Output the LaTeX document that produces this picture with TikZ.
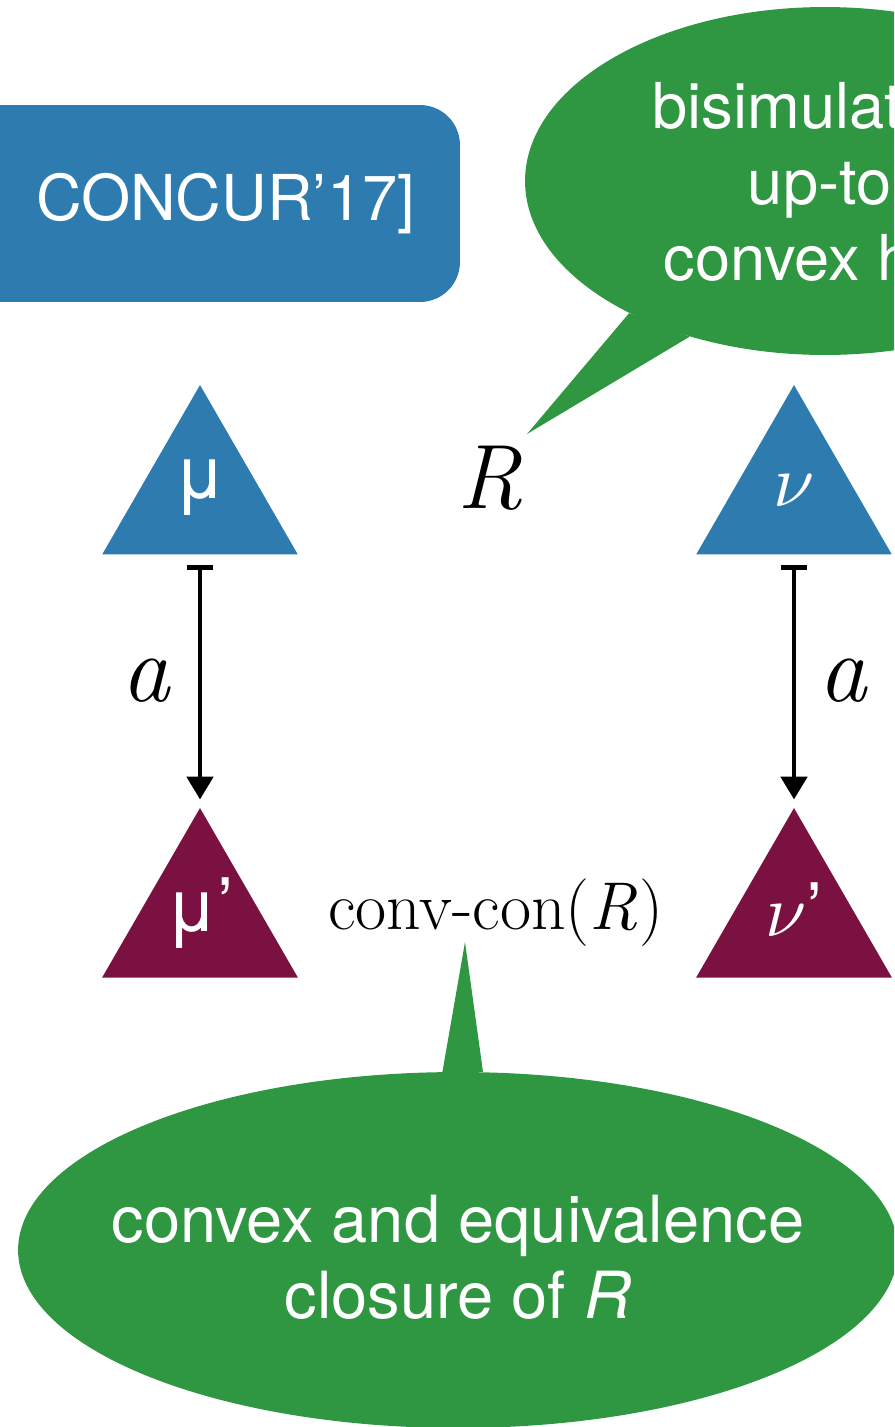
\documentclass[tikz,border=0pt]{standalone}
\usepackage[no-math]{fontspec}
\usepackage{graphicx}
\setmainfont{TeX Gyre Heros}
\newfontfamily\lmr{Latin Modern Roman}
\usetikzlibrary{shapes.geometric,arrows.meta}
\definecolor{kblue}{RGB}{46,124,175}
\definecolor{kgreen}{RGB}{47,151,66}
\definecolor{kmaroon}{RGB}{122,17,65}
\newcommand{\tlab}[2]{\raisebox{#1}[0pt][0pt]{\makebox[0pt]{#2}}}
\newcommand{\bignu}{\scalebox{4.2}{\fontsize{10}{12}\selectfont$\nu$}}
\begin{document}
\begin{tikzpicture}[x=0.02cm,y=-0.02cm,
  tri/.style={regular polygon, regular polygon sides=3, minimum size=4.52cm,
    inner sep=0pt, text=white, font=\fontsize{42}{42}\selectfont},
  citebox/.style={rectangle, rounded corners=0.8cm, fill=kblue, text=white,
    minimum height=3.94cm, text width=8.6cm, inner xsep=0.9cm, align=right,
    font=\fontsize{36}{43}\selectfont},
  bubble/.style={ellipse, fill=kgreen, inner sep=0pt},
  bubtext/.style={text=white, align=center},
  trans/.style={draw, line width=2.3pt,
    {Bar[width=15pt,line width=2.6pt]}-{Triangle[length=13pt,width=15pt]},
    shorten <=6pt, shorten >=4.5pt},
  alab/.style={font=\lmr\itshape\fontsize{55}{55}\selectfont},
  mlab/.style={font=\lmr\itshape\fontsize{52}{52}\selectfont}
]
\useasboundingbox (0,0) rectangle (894,1427);
\clip (0,0) rectangle (894,1427);

% citation box
\node[citebox] (cite) at (200,203.5) {CONCUR’17]};

% top speech bubble
\node[bubble, minimum width=12cm, minimum height=6.96cm,
  label={[bubtext, font=\fontsize{36}{43.5}\selectfont, xshift=-3pt, yshift=-0.5pt]center:{bisimulation\\up-to\\convex hull}}]
  (upto) at (825,181) {};
\coordinate (upTip) at (527,434);
\fill[kgreen] (upto.214) -- (upTip) -- (upto.229) -- cycle;

% states
\node[tri, fill=kblue] (mu) at (200,498) {\tlab{0pt}{μ}};
\node[tri, fill=kblue] (nu) at (794,498) {\tlab{-5pt}{\bignu}};
\node[tri, fill=kmaroon] (mup) at (200,921) {\tlab{-6pt}{μ’}};
\node[tri, fill=kmaroon] (nup) at (794,921) {\tlab{-9pt}{\bignu’}};

% relation labels
\node[mlab] (rel) at (490,478) {R};
\node[font=\lmr\fontsize{38.5}{38.5}\selectfont] (conv) at (496,913) {conv-con(\textit{R}\kern1pt)};

% transitions
\draw[trans] (mu) -- node[alab, left=12.5pt] (la) {a} (mup);
\draw[trans] (nu) -- node[alab, right=9.5pt] (lb) {a} (nup);

% bottom speech bubble
\node[bubble, minimum width=17.6cm, minimum height=7.12cm,
  label={[bubtext, font=\fontsize{37}{43}\selectfont, yshift=-4pt]center:{convex and equivalence\\closure of \textit{R}}}]
  (closure) at (458,1250) {};
\coordinate (lowTip) at (465,942);
\fill[kgreen] (closure.95) -- (lowTip) -- (closure.82) -- cycle;
\end{tikzpicture}
\end{document}
